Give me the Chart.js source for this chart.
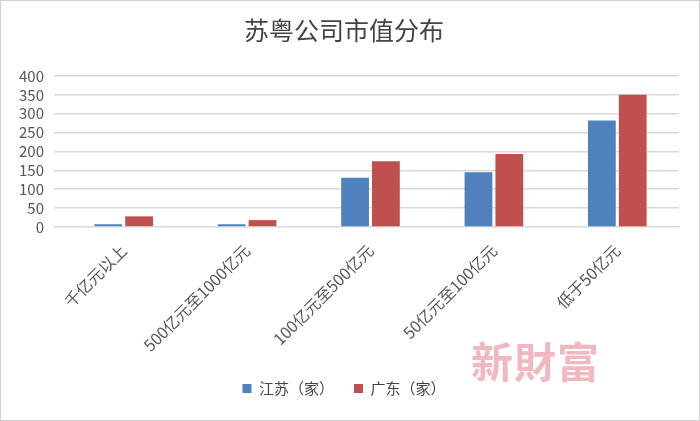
<!DOCTYPE html><html><head><meta charset="utf-8">
<script src="https://cdn.jsdelivr.net/npm/chart.js@4"></script>
<style>body{margin:0;background:#fff}#w{position:relative;width:698px;height:419px;border:1px solid #d0d0d0}
#wm{position:absolute;left:470px;top:328px;font:bold 42px "Noto Sans CJK SC";color:#f2b8c0;letter-spacing:1px}</style></head><body>
<div id="w"><canvas id="c" width="698" height="419"></canvas><div id="wm">新財富</div></div>
<script>
const categories=["千亿元以上","500亿元至1000亿元","100亿元至500亿元","50亿元至100亿元","低于50亿元"];
const jiangsu=[7,7,130,145,282];
const guangdong=[28,18,174,193,350];
const yTicks=[0,50,100,150,200,250,300,350,400];
const F='"Noto Sans CJK SC","Liberation Sans"';
new Chart(document.getElementById('c'),{type:'bar',
data:{labels:categories,datasets:[
{label:'江苏（家）',data:jiangsu,backgroundColor:'#4f81bd',borderColor:'#4f81bd'},
{label:'广东（家）',data:guangdong,backgroundColor:'#c0504d',borderColor:'#c0504d'}]},
options:{responsive:false,animation:false,
layout:{padding:{left:8,right:20,top:0,bottom:14}},
datasets:{bar:{categoryPercentage:0.5,barPercentage:0.9}},
plugins:{title:{display:true,text:'苏粤公司市值分布',font:{family:F,size:25,weight:'normal'},color:'#444',padding:{top:14,bottom:31}},
legend:{position:'bottom',labels:{boxWidth:9,boxHeight:9,font:{family:F,size:15},color:'#444',padding:20}},tooltip:{enabled:false}},
scales:{x:{grid:{display:false},border:{color:'#d9d9d9'},ticks:{padding:6,minRotation:45,maxRotation:45,font:{family:F,size:16},color:'#555'}},
y:{min:0,max:400,afterBuildTicks:a=>{a.ticks=yTicks.map(v=>({value:v}))},grid:{color:'#d9d9d9',lineWidth:1.5},border:{display:false},ticks:{autoSkip:false,font:{family:F,size:15},color:'#555',padding:10}}}}});
</script></body></html>
